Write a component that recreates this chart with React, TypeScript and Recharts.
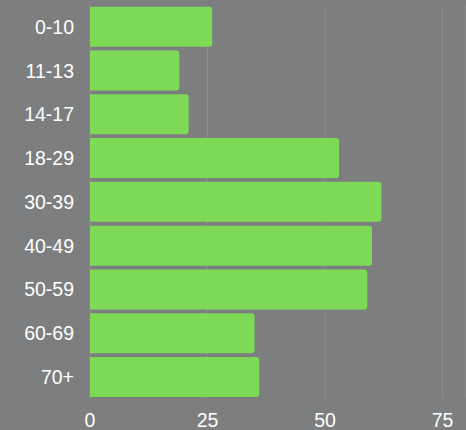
import React from 'react';
import { BarChart, Bar, XAxis, YAxis, CartesianGrid } from 'recharts';

const ageGroups = ['0-10', '11-13', '14-17', '18-29', '30-39', '40-49', '50-59', '60-69', '70+'];
const counts = [26, 19, 21, 53, 62, 60, 59, 35, 36];
const xTicks = [0, 25, 50, 75];

const data = ageGroups.map((group, i) => ({ group, count: counts[i] }));

const App: React.FC = () => {
    return (
        <div style={{ position: 'absolute', left: 0, top: 0, width: 466, height: 430, background: '#7d7e80', fontFamily: '"Liberation Sans", Arial, sans-serif' }}>
            <BarChart
                width={466}
                height={430}
                data={data}
                layout="vertical"
                margin={{ top: 5, right: 0, bottom: 0, left: 0 }}
                barCategoryGap="4%"
            >
                <CartesianGrid horizontal={false} stroke="#8b8c8e" />
                <XAxis
                    type="number"
                    domain={[0, 80]}
                    ticks={xTicks}
                    height={31}
                    axisLine={false}
                    tickLine={false}
                    tickMargin={8}
                    tick={{ fill: '#ffffff', fontSize: 19.5 }}
                />
                <YAxis
                    type="category"
                    dataKey="group"
                    width={90}
                    axisLine={false}
                    tickLine={false}
                    tickMargin={10}
                    tick={{ fill: '#ffffff', fontSize: 19.5 }}
                />
                <Bar dataKey="count" fill="#7ed957" radius={[0, 3, 3, 0]} isAnimationActive={false} />
            </BarChart>
        </div>
    );
};

export default App;
